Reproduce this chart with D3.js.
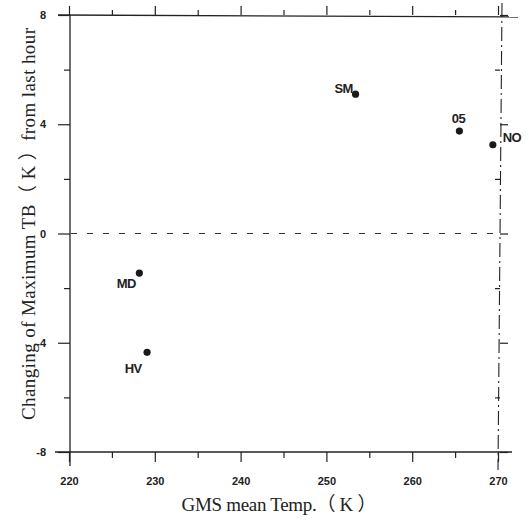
<html>
<head>
  <meta charset="utf8">
  <title>GMS mean Temp vs Changing of Maximum TB</title>
  <style>
  * { margin: 0; padding: 0; }
  body { background: #fff; }
  .axis path { display: none; }
  .axis line { stroke: #222; stroke-width: 1.2px; }
  .axis text { font: bold 11px "Liberation Sans", Arial, sans-serif; fill: #222; }
  .frame { stroke: #222; stroke-width: 1.3px; fill: none; }
  .zero { stroke: #333; stroke-width: 1.2px; stroke-dasharray: 6 10; }
  .dot { fill: #1a1a1a; }
  .lbl { font: bold 13px "Liberation Sans", Arial, sans-serif; fill: #222; letter-spacing: -0.6px; }
  .title { font: 19px "Liberation Serif", "Times New Roman", "Noto Sans CJK SC", serif; fill: #222; }
  </style>
</head>
<body>
<script src="https://cdn.jsdelivr.net/npm/d3@7"></script>
<script>
// data
var names = ["SM", "05", "NO", "MD", "HV"]
var temps = [253.4, 265.5, 269.4, 228.2, 229.1]
var dtb = [5.1, 3.75, 3.25, -1.45, -4.35]

var xTicks = [220, 230, 240, 250, 260, 270]
var xMinor = [225, 235, 245, 255, 265]
var yTicks = [8, 4, 0, -4, -8]
var yMinor = [6, 2, -2, -6]

var W = 529, H = 520
var svg = d3.select("body").append("svg")
  .attr("width", W).attr("height", H)
  .attr("viewBox", `0 0 ${W} ${H}`)

var x = d3.scaleLinear().domain([220, 270]).range([69, 498])
var y = d3.scaleLinear().domain([-8, 8]).range([452, 15])

// frame lines (left / top / bottom solid, right dash-dot)
svg.append("line").attr("class", "frame")
  .attr("x1", x(220) + 1).attr("x2", x(220) + 1).attr("y1", y(8)).attr("y2", y(-8) + 14)
svg.append("line").attr("class", "frame")
  .attr("x1", 58).attr("x2", 518).attr("y1", y(8)).attr("y2", y(8) + 2)
svg.append("line").attr("class", "frame")
  .attr("x1", 55).attr("x2", 512).attr("y1", y(-8)).attr("y2", y(-8))
svg.append("line").attr("class", "frame")
  .attr("x1", x(270) + 4).attr("x2", x(270)).attr("y1", 3).attr("y2", 470)
  .style("stroke-dasharray", "14 4 2 4").style("stroke-width", 1.1)

// zero line
svg.append("line").attr("class", "zero")
  .attr("x1", x(220) + 2).attr("x2", x(270)).attr("y1", y(0)).attr("y2", y(0))

// bottom axis
svg.append("g").attr("class", "axis")
  .attr("transform", `translate(0,${y(-8)})`)
  .call(d3.axisBottom(x).tickValues(xTicks).tickSize(10).tickPadding(15).tickFormat(d3.format("d")))
svg.append("g").attr("class", "axis")
  .attr("transform", `translate(0,${y(-8)})`)
  .call(d3.axisBottom(x).tickValues(xMinor).tickSize(6).tickFormat(""))

// top axis (ticks only)
svg.append("g").attr("class", "axis")
  .attr("transform", `translate(0,${y(8)})`)
  .call(d3.axisTop(x).tickValues(xTicks).tickSize(9).tickFormat(""))
svg.append("g").attr("class", "axis")
  .attr("transform", `translate(0,${y(8)})`)
  .call(d3.axisTop(x).tickValues(xMinor).tickSize(5).tickFormat(""))

// left axis, plain hyphen for negatives like the scan
svg.append("g").attr("class", "axis")
  .attr("transform", `translate(${x(220) + 1},0)`)
  .call(d3.axisLeft(y).tickValues(yTicks).tickSize(12).tickPadding(12).tickFormat(d => String(d)))
svg.append("g").attr("class", "axis")
  .attr("transform", `translate(${x(220) + 1},0)`)
  .call(d3.axisLeft(y).tickValues(yMinor).tickSize(6).tickFormat(""))

// right axis (ticks only)
svg.append("g").attr("class", "axis")
  .attr("transform", `translate(${x(270) + 2},0)`)
  .call(d3.axisRight(y).tickValues(yTicks).tickSize(8).tickFormat(""))
svg.append("g").attr("class", "axis")
  .attr("transform", `translate(${x(270) + 2},0)`)
  .call(d3.axisLeft(y).tickValues(yMinor).tickSize(5).tickFormat(""))

// points
var pts = names.map((n, i) => ({ name: n, t: temps[i], v: dtb[i] }))
// label offsets relative to the dot
var off = { SM: [-12, -1], "05": [-1, -8], NO: [19, -3], MD: [-13, 15], HV: [-14, 21] }

svg.selectAll(".dot").data(pts).enter().append("circle")
  .attr("class", "dot")
  .attr("cx", d => x(d.t)).attr("cy", d => y(d.v)).attr("r", 3.6)

svg.selectAll(".lbl").data(pts).enter().append("text")
  .attr("class", "lbl")
  .attr("x", d => x(d.t) + off[d.name][0])
  .attr("y", d => y(d.v) + off[d.name][1])
  .attr("text-anchor", "middle")
  .text(d => d.name)

// titles
svg.append("text").attr("class", "title")
  .attr("x", 279).attr("y", 511)
  .attr("text-anchor", "middle")
  .attr("textLength", 195).attr("lengthAdjust", "spacing")
  .text("GMS mean Temp.（ K ）")

svg.append("text").attr("class", "title")
  .attr("transform", "translate(35,224) rotate(-90)")
  .attr("text-anchor", "middle")
  .attr("textLength", 392).attr("lengthAdjust", "spacing")
  .text("Changing of Maximum TB（ K ）from last hour")
</script>
</body>
</html>
